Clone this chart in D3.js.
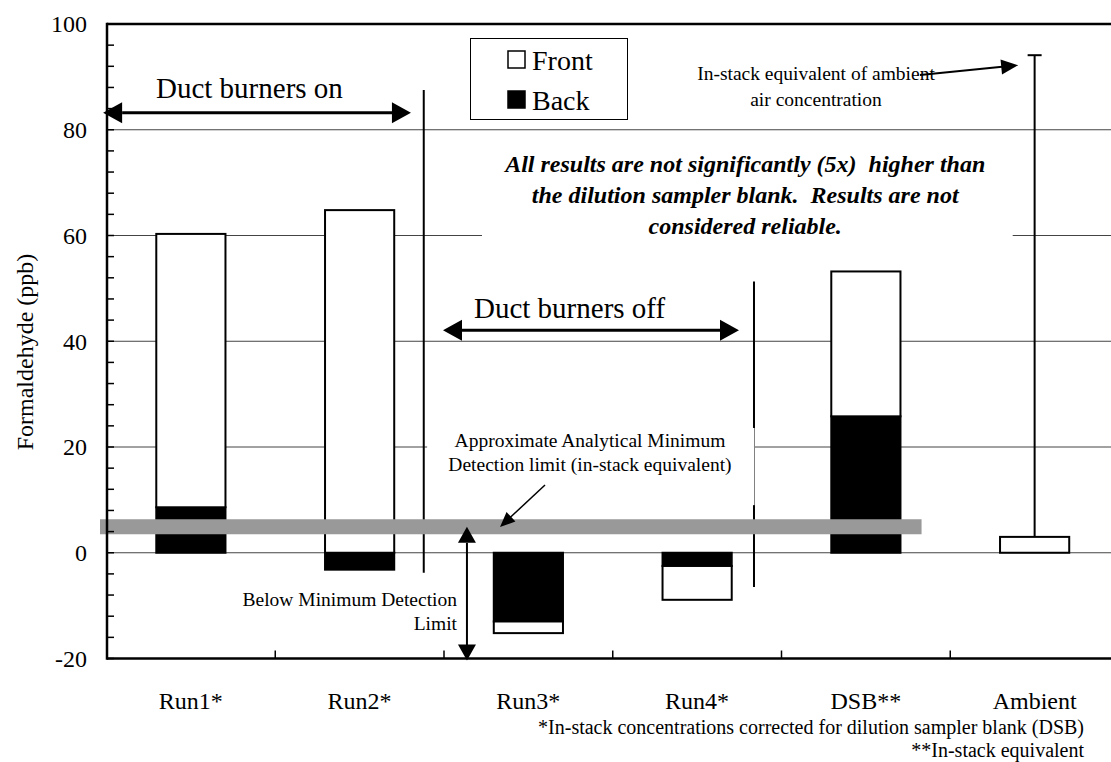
<!DOCTYPE html>
<html>
<head>
<meta charset="utf-8">
<script src="https://cdn.jsdelivr.net/npm/d3@7/dist/d3.min.js"></script>
<style>
  html, body { margin: 0; padding: 0; background: #fff; }
  svg { display: block; }
  text { font-family: "Liberation Serif", "Times New Roman", "DejaVu Serif", serif; fill: #000; }
</style>
</head>
<body>
<svg id="chart" width="1111" height="762"></svg>
<script>
// ---------- data ----------
const categories = ["Run1*", "Run2*", "Run3*", "Run4*", "DSB**", "Ambient"];
const frontValues = [51.7, 64.8, -2.2, -6.4, 27.4, 3.0];
const backValues  = [8.6, -3.2, -13.0, -2.5, 25.8, 0];
const errorHigh   = [null, null, null, null, null, 94.1];
const yTicks = [-20, 0, 20, 40, 60, 80, 100];
const seriesKeys = ["back", "front"];
const legendLabels = ["Front", "Back"];
const detectionLimit = 4.9;

// ---------- layout ----------
const W = 1111, H = 762;
const svg = d3.select("#chart");
const plotLeft = 106.5, band = 168.75;
const x = d3.scaleBand().domain(categories).range([plotLeft, plotLeft + band * categories.length]);
const y = d3.scaleLinear().domain([-20, 100]).range([658.5, 24]);
const X = i => x.range()[0] + i * x.bandwidth();   // fractional category index -> px
const barW = x.bandwidth() * 0.41;
const axisLeft = 107;

const rows = categories.map((c, i) => ({ cat: c, front: frontValues[i], back: backValues[i] }));
const stacked = d3.stack().keys(seriesKeys).offset(d3.stackOffsetDiverging)(rows);
const fills = { back: "#000", front: "#fff" };

// ---------- gridlines ----------
svg.append("g").selectAll("line").data(yTicks.filter(v => v > -20 && v < 100)).join("line")
  .attr("x1", axisLeft).attr("x2", W).attr("y1", d => y(d)).attr("y2", d => y(d))
  .attr("stroke", "#444").attr("stroke-width", 1);

// ---------- bars ----------
svg.append("g").selectAll("g").data(stacked).join("g")
  .attr("fill", d => fills[d.key])
  .selectAll("rect").data(d => d).join("rect")
  .attr("x", d => x(d.data.cat) + (x.bandwidth() - barW) / 2)
  .attr("width", barW)
  .attr("y", d => y(Math.max(d[0], d[1])))
  .attr("height", d => Math.abs(y(d[0]) - y(d[1])))
  .attr("stroke", "#000").attr("stroke-width", 2)
  .filter(d => Math.abs(d[1] - d[0]) < 1e-9).remove();

// ---------- error bar (ambient) ----------
categories.forEach((c, i) => {
  if (errorHigh[i] == null) return;
  const cx = x(c) + x.bandwidth() / 2;
  const base = frontValues[i] + Math.max(0, backValues[i]);
  svg.append("line").attr("x1", cx).attr("x2", cx).attr("y1", y(base)).attr("y2", y(errorHigh[i]))
    .attr("stroke", "#000").attr("stroke-width", 2);
  svg.append("line").attr("x1", cx - 7).attr("x2", cx + 7).attr("y1", y(errorHigh[i])).attr("y2", y(errorHigh[i]))
    .attr("stroke", "#000").attr("stroke-width", 2);
});

// ---------- separator lines ----------
svg.append("line").attr("x1", X(1.88)).attr("x2", X(1.88)).attr("y1", y(87.5)).attr("y2", y(-3.8))
  .attr("stroke", "#000").attr("stroke-width", 2);
svg.append("line").attr("x1", X(3.837)).attr("x2", X(3.837)).attr("y1", y(51.3)).attr("y2", y(-6.5))
  .attr("stroke", "#000").attr("stroke-width", 2);

// ---------- arrow helper ----------
function arrowHead(x1, y1, x2, y2, len, wid) {
  const a = Math.atan2(y2 - y1, x2 - x1);
  const bx = x2 - len * Math.cos(a), by = y2 - len * Math.sin(a);
  const px = -Math.sin(a) * wid / 2, py = Math.cos(a) * wid / 2;
  svg.append("path").attr("d", `M${x2},${y2}L${bx + px},${by + py}L${bx - px},${by - py}Z`).attr("fill", "#000");
  return [bx, by];
}
function arrow(x1, y1, x2, y2, sw, len, wid, both) {
  let s = [x1, y1], e = [x2, y2];
  e = arrowHead(x1, y1, x2, y2, len, wid);
  if (both) s = arrowHead(x2, y2, x1, y1, len, wid);
  svg.append("line").attr("x1", s[0]).attr("y1", s[1]).attr("x2", e[0] + (x2 - e[0]) * 0.2).attr("y2", e[1] + (y2 - e[1]) * 0.2)
    .attr("stroke", "#000").attr("stroke-width", sw);
}

// ---------- italic note with white box ----------
svg.append("rect").attr("x", X(2.225)).attr("y", y(76)).attr("width", X(5.37) - X(2.225)).attr("height", y(58.5) - y(76))
  .attr("fill", "#fff");
const noteLines = ["All results are not significantly (5x)  higher than",
                   "the dilution sampler blank.  Results are not",
                   "considered reliable."];
svg.append("g").selectAll("text").data(noteLines).join("text")
  .attr("x", X(3.785)).attr("y", (d, i) => 172 + i * 31)
  .attr("text-anchor", "middle").style("white-space", "pre")
  .attr("font-size", 24).attr("font-weight", "bold").attr("font-style", "italic")
  .text(d => d);

// ---------- approximate MDL label with white box ----------
svg.append("rect").attr("x", X(1.9)).attr("y", y(23.6)).attr("width", X(3.84) - X(1.9)).attr("height", y(9) - y(23.6))
  .attr("fill", "#fff");
svg.append("g").selectAll("text").data(["Approximate Analytical Minimum", "Detection limit (in-stack equivalent)"]).join("text")
  .attr("x", X(2.865)).attr("y", (d, i) => 447 + i * 24)
  .attr("text-anchor", "middle").attr("font-size", 19.5).text(d => d);

// ---------- detection limit band ----------
svg.append("line").attr("x1", 100).attr("x2", X(4.83)).attr("y1", y(detectionLimit)).attr("y2", y(detectionLimit))
  .attr("stroke", "#999").attr("stroke-width", 15);

arrow(545, 485, 500, 527, 1.5, 15, 13, false);

// ---------- below MDL label + double arrow ----------
svg.append("g").selectAll("text").data(["Below Minimum Detection", "Limit"]).join("text")
  .attr("x", 457).attr("y", (d, i) => 606 + i * 24)
  .attr("text-anchor", "end").attr("font-size", 19.5).text(d => d);
arrow(X(2.136), y(4.9), X(2.136), y(-20.4), 2, 16, 18, true);

// ---------- duct burner arrows ----------
svg.append("text").attr("x", 156).attr("y", 98).attr("font-size", 29).text("Duct burners on");
arrow(X(-0.02), y(83.2), X(1.804), y(83.2), 3, 19, 21, true);
svg.append("text").attr("x", 474).attr("y", 318).attr("font-size", 29).text("Duct burners off");
arrow(X(1.994), y(42.1), X(3.748), y(42.1), 3, 19, 21, true);

// ---------- ambient annotation ----------
svg.append("g").selectAll("text").data(["In-stack equivalent of ambient", "air concentration"]).join("text")
  .attr("x", 816).attr("y", (d, i) => 80 + i * 26)
  .attr("text-anchor", "middle").attr("font-size", 19.5).text(d => d);
arrow(920, 75, X(5.45) - 8, y(92.2), 2, 17, 15, false);

// ---------- legend ----------
const lg = svg.append("g");
lg.append("rect").attr("x", 470.5).attr("y", 38.5).attr("width", 157).attr("height", 81)
  .attr("fill", "#fff").attr("stroke", "#000").attr("stroke-width", 1);
legendLabels.forEach((lab, i) => {
  const key = lab.toLowerCase();
  lg.append("rect").attr("x", 508).attr("y", 51 + i * 40).attr("width", 17).attr("height", 17)
    .attr("fill", fills[key]).attr("stroke", "#000").attr("stroke-width", 1.5);
  lg.append("text").attr("x", 532).attr("y", 70 + i * 40).attr("font-size", 28).text(lab);
});

// ---------- axes ----------
// minor ticks
svg.append("g").selectAll("line").data(d3.range(-20, 101, 4)).join("line")
  .attr("x1", axisLeft).attr("x2", axisLeft + 7).attr("y1", d => y(d)).attr("y2", d => y(d))
  .attr("stroke", "#000").attr("stroke-width", 1.5);
// x ticks
svg.append("g").selectAll("line").data(d3.range(1, categories.length)).join("line")
  .attr("x1", d => X(d)).attr("x2", d => X(d)).attr("y1", y(-20)).attr("y2", y(-20) - 8)
  .attr("stroke", "#000").attr("stroke-width", 1.5);
svg.append("line").attr("x1", axisLeft).attr("x2", W).attr("y1", y(100)).attr("y2", y(100)).attr("stroke", "#000").attr("stroke-width", 2.5);
svg.append("line").attr("x1", axisLeft).attr("x2", W).attr("y1", y(-20)).attr("y2", y(-20)).attr("stroke", "#000").attr("stroke-width", 2.5);
svg.append("line").attr("x1", axisLeft).attr("x2", axisLeft).attr("y1", y(100) - 1.25).attr("y2", y(-20) + 1.25).attr("stroke", "#000").attr("stroke-width", 2.5);

// y tick labels
svg.append("g").selectAll("text").data(yTicks).join("text")
  .attr("x", 87).attr("y", d => y(d)).attr("dy", "0.35em")
  .attr("text-anchor", "end").attr("font-size", 24).text(d => d);

// x labels
svg.append("g").selectAll("text").data(categories).join("text")
  .attr("x", d => x(d) + x.bandwidth() / 2).attr("y", 709)
  .attr("text-anchor", "middle").attr("font-size", 24).text(d => d);

// y title
svg.append("text").attr("transform", "translate(33,352) rotate(-90)")
  .attr("text-anchor", "middle").attr("font-size", 24).text("Formaldehyde (ppb)");

// footnotes
svg.append("g").selectAll("text").data(["*In-stack concentrations corrected for dilution sampler blank (DSB)", "**In-stack equivalent"]).join("text")
  .attr("x", 1084).attr("y", (d, i) => 734 + i * 23)
  .attr("text-anchor", "end").attr("font-size", 20).text(d => d);
</script>
</body>
</html>
